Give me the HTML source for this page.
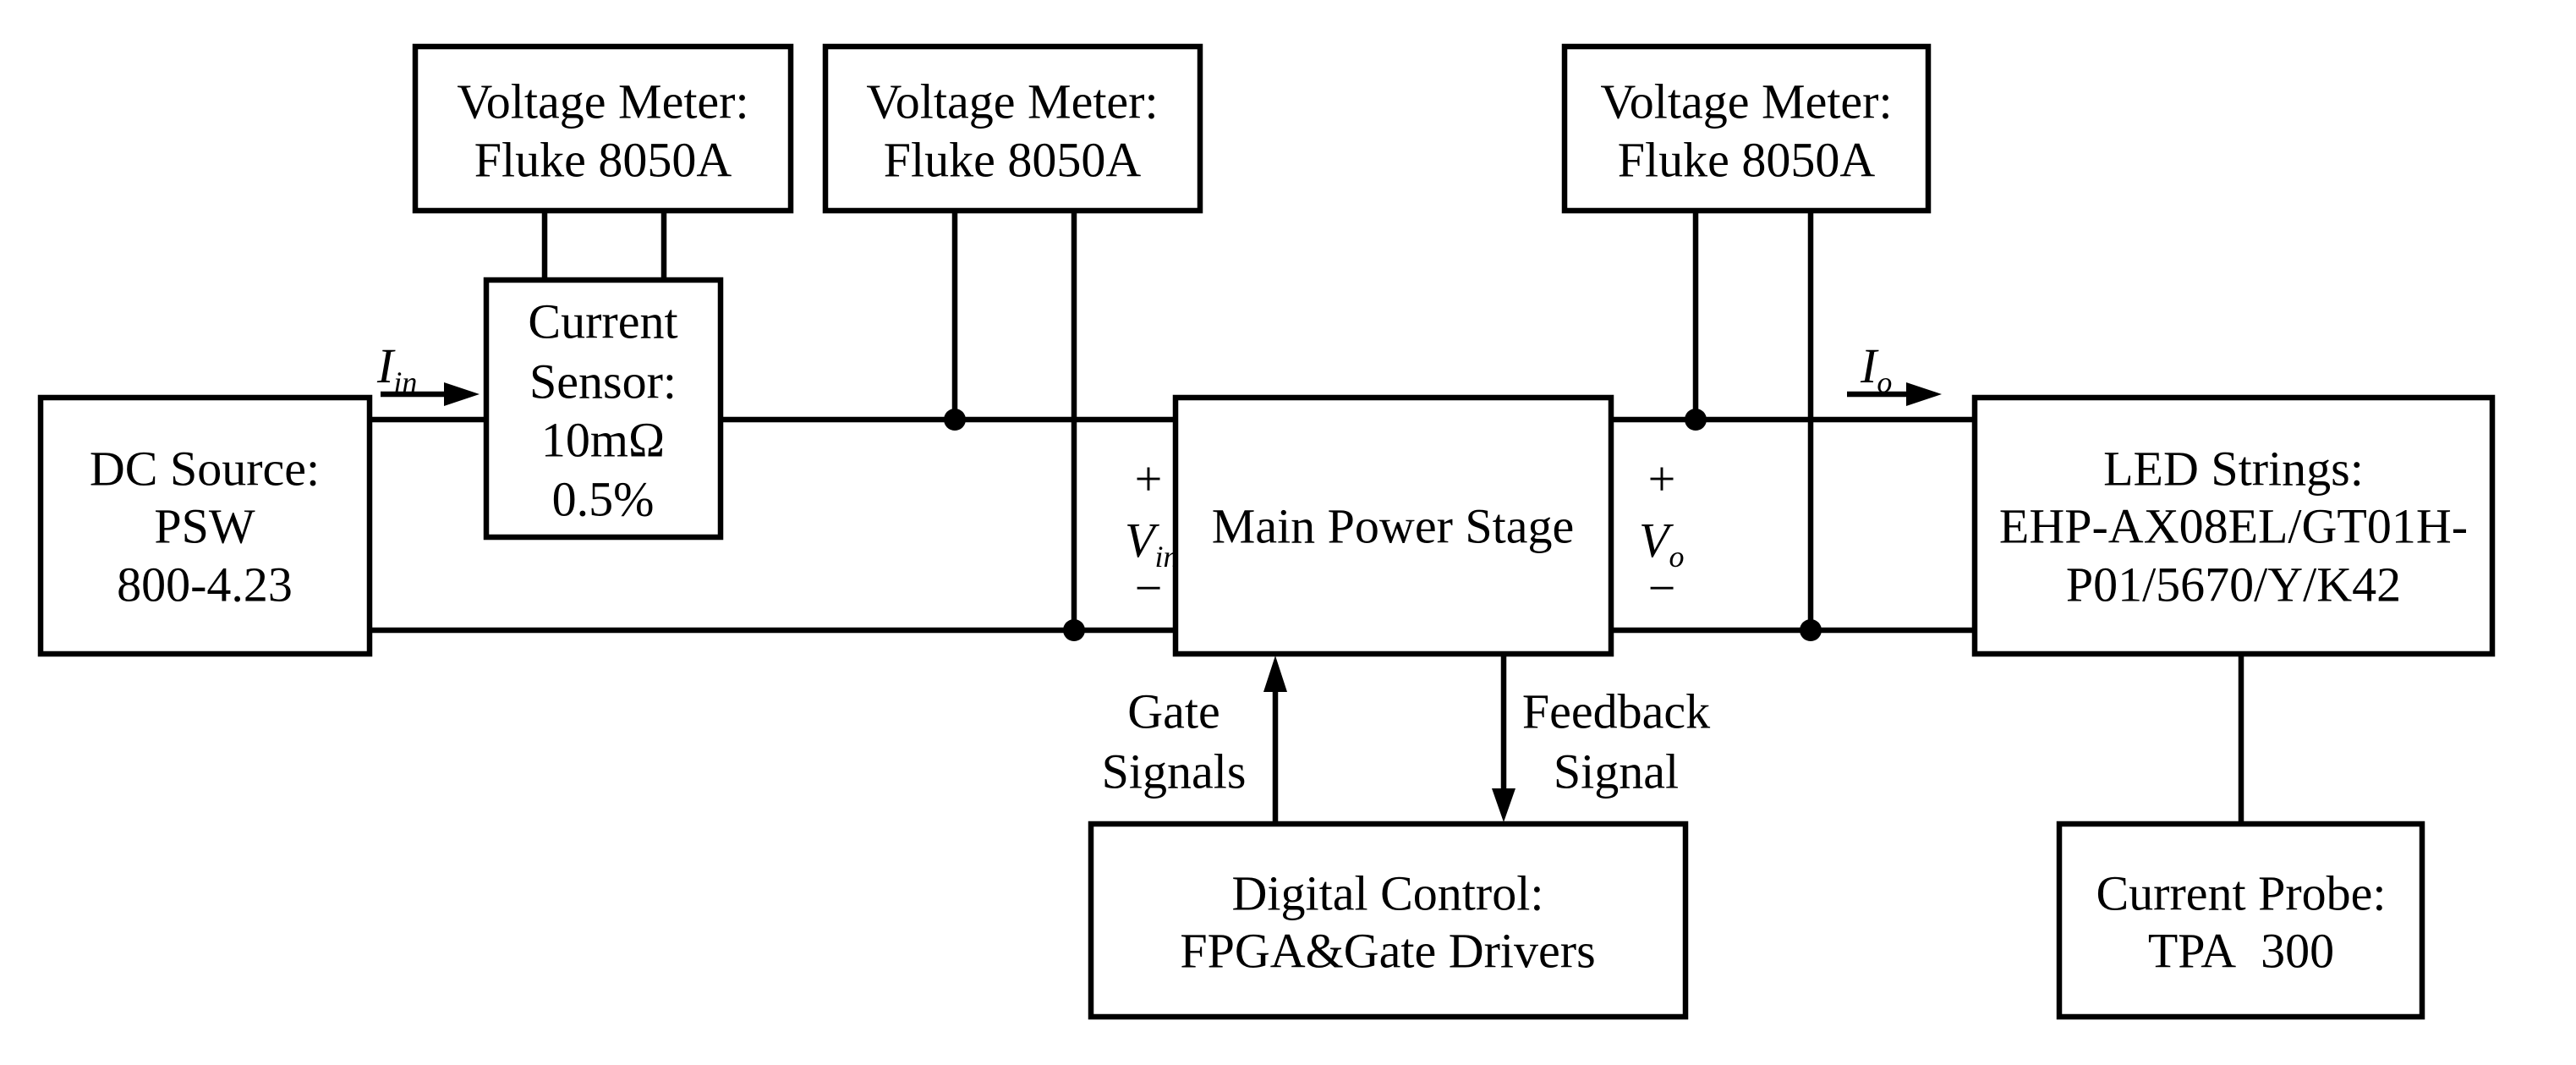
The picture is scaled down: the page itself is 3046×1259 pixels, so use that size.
<!DOCTYPE html>
<html><head><meta charset="utf-8"><style>
html,body{margin:0;padding:0;background:#fff}
svg{display:block}
text{font-family:"Liberation Serif",serif;font-size:58px;fill:#000}
</style></head><body>
<svg width="3046" height="1259" viewBox="0 0 3046 1259" xmlns="http://www.w3.org/2000/svg">
<g fill="none" stroke="#000" stroke-width="6.5">
<rect x="48" y="470" width="389" height="303"/>
<rect x="491" y="55" width="444" height="194"/>
<rect x="976" y="55" width="443" height="194"/>
<rect x="575" y="331" width="277" height="304"/>
<rect x="1390" y="470" width="515" height="303"/>
<rect x="1850" y="55" width="430" height="194"/>
<rect x="2335" y="470" width="612" height="303"/>
<rect x="1290" y="974" width="703" height="228"/>
<rect x="2435" y="974" width="429" height="228"/>
<path d="M644 249V331M785 249V331"/>
<path d="M437 496H575M852 496H1390M437 745H1390"/>
<path d="M1129 249V496M1270 249V745"/>
<path d="M1905 496H2335M1905 745H2335"/>
<path d="M2005 249V496M2141 249V745"/>
<path d="M2650 773V974"/>
<path d="M1508 974V815"/>
<path d="M1778 773V935"/>
<path d="M450 466H530"/>
<path d="M2184 466H2255"/>
</g>
<g fill="#000">
<polygon points="1508,775 1494,818 1522,818"/>
<polygon points="1778,972 1764,932 1792,932"/>
<polygon points="567,466 525,452 525,480"/>
<polygon points="2296,466 2254,452 2254,480"/>
<circle cx="1129" cy="496" r="13"/>
<circle cx="1270" cy="745" r="13"/>
<circle cx="2005" cy="496" r="13"/>
<circle cx="2141" cy="745" r="13"/>
</g>
<g text-anchor="middle" dominant-baseline="central">
<text x="713" y="120">Voltage Meter:</text>
<text x="713" y="189">Fluke 8050A</text>
<text x="1197" y="120">Voltage Meter:</text>
<text x="1197" y="189">Fluke 8050A</text>
<text x="2065" y="120">Voltage Meter:</text>
<text x="2065" y="189">Fluke 8050A</text>
<text x="713" y="380">Current</text>
<text x="713" y="451">Sensor:</text>
<text x="713" y="520">10mΩ</text>
<text x="713" y="590">0.5%</text>
<text x="242" y="554">DC Source:</text>
<text x="242" y="622">PSW</text>
<text x="242" y="691">800-4.23</text>
<text x="1647" y="622">Main Power Stage</text>
<text x="2641" y="554">LED Strings:</text>
<text x="2641" y="622">EHP-AX08EL/GT01H-</text>
<text x="2641" y="691">P01/5670/Y/K42</text>
<text x="1641" y="1056">Digital Control:</text>
<text x="1641" y="1124">FPGA&amp;Gate Drivers</text>
<text x="2650" y="1056">Current Probe:</text>
<text x="2650" y="1124">TPA&#160; 300</text>
<text x="1388" y="841">Gate</text>
<text x="1388" y="912">Signals</text>
<text x="1911" y="841">Feedback</text>
<text x="1911" y="912">Signal</text>
<text x="1358" y="566">+</text>
<text x="1358" y="695">−</text>
<text x="1965" y="566">+</text>
<text x="1965" y="695">−</text>
</g>
<text x="1330" y="658" font-style="italic">V<tspan font-size="36" dy="12">in</tspan></text>
<text x="1938" y="658" font-style="italic">V<tspan font-size="36" dy="12">o</tspan></text>
<text x="446" y="452" font-style="italic">I<tspan font-size="36" dy="12">in</tspan></text>
<text x="2200" y="452" font-style="italic">I<tspan font-size="36" dy="12">o</tspan></text>
</svg>
</body></html>
